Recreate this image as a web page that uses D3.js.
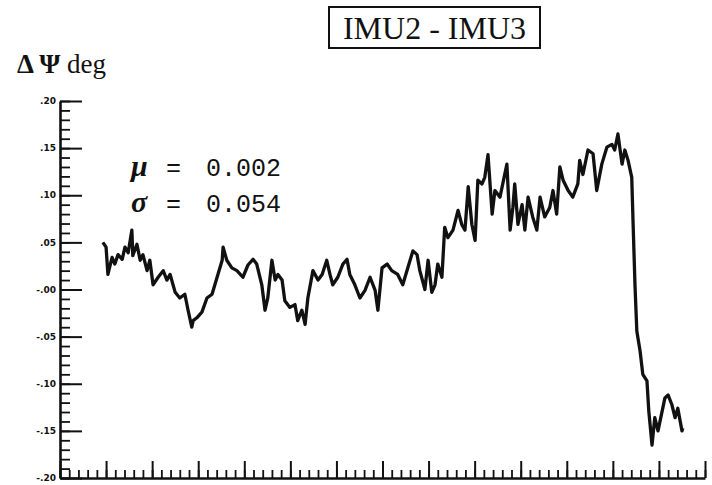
<!DOCTYPE html>
<html>
<head>
<meta charset="utf-8">
<script src="https://cdn.jsdelivr.net/npm/d3@7"></script>
<style>
  body { margin: 0; background: #fff; }
  svg { display: block; }
</style>
</head>
<body>
<svg id="chart" width="712" height="485"></svg>
<script>
// heading difference trace (x in arbitrary time units, y in deg)
const timeValues = [
  9.3, 10.0, 10.4, 11.3, 11.9, 12.6, 13.5, 14.1, 14.8, 15.6, 15.8, 16.7, 17.4, 18.0, 18.9, 19.5,
  20.2, 21.3, 22.4, 23.2, 23.9, 25.0, 26.0, 27.1, 27.8, 28.6, 28.9, 29.7, 30.8, 31.9, 33.0, 34.1,
  35.2, 35.4, 36.2, 37.3, 38.4, 39.7, 40.8, 41.9, 42.7, 43.8, 44.5, 45.1, 46.0, 46.7, 47.3, 48.2,
  48.8, 49.9, 51.0, 51.6, 52.5, 53.2, 53.8, 54.9, 56.0, 56.9, 57.9, 58.6, 59.2, 60.3, 61.4, 62.3,
  62.9, 64.0, 65.1, 66.2, 67.3, 68.4, 69.0, 69.9, 71.0, 72.0, 73.3, 74.4, 75.5, 76.6, 77.5, 78.1,
  79.2, 79.9, 80.7, 81.4, 82.0, 82.9, 83.5, 84.2, 85.3, 86.4, 87.2, 87.9, 88.6, 89.4, 90.1, 90.7,
  91.6, 92.2, 92.9, 93.8, 94.4, 95.5, 96.1, 97.0, 97.7, 98.3, 98.7, 99.4, 100.3, 100.9, 101.6, 102.6,
  103.5, 104.2, 105.2, 106.3, 107.0, 107.8, 108.5, 109.2, 110.3, 111.3, 112.4, 112.8, 113.5, 114.6, 115.7, 116.5,
  117.6, 118.7, 119.8, 120.4, 121.1, 122.0, 122.6, 123.3, 124.1, 124.4, 124.8, 125.2, 125.9, 126.5, 127.4, 127.8,
  128.5, 129.1, 129.8, 130.7, 131.3, 132.0, 132.8, 133.5, 134.1, 135.0, 135.2
];
const deltaPsi = [
  0.050, 0.045, 0.016, 0.034, 0.027, 0.037, 0.032, 0.045, 0.039, 0.063, 0.036, 0.048, 0.031, 0.037, 0.020, 0.031,
  0.005, 0.013, 0.020, 0.010, 0.016, -0.003, -0.009, -0.005, -0.022, -0.040, -0.033, -0.030, -0.024, -0.009, -0.005, 0.013,
  0.031, 0.045, 0.031, 0.023, 0.020, 0.013, 0.026, 0.032, 0.027, 0.005, -0.022, -0.009, 0.031, 0.010, 0.016, 0.010,
  -0.012, -0.019, -0.016, -0.033, -0.022, -0.037, -0.009, 0.020, 0.010, 0.016, 0.031, 0.016, 0.005, 0.013, 0.027, 0.032,
  0.016, 0.005, -0.009, -0.001, 0.013, -0.001, -0.022, 0.023, 0.027, 0.020, 0.016, 0.005, 0.023, 0.041, 0.037, 0.020,
  0.000, 0.031, -0.003, 0.005, 0.027, 0.013, 0.066, 0.055, 0.063, 0.084, 0.069, 0.063, 0.109, 0.069, 0.052, 0.116,
  0.112, 0.119, 0.143, 0.080, 0.105, 0.098, 0.112, 0.133, 0.063, 0.087, 0.112, 0.069, 0.090, 0.063, 0.098, 0.077,
  0.063, 0.098, 0.077, 0.087, 0.105, 0.080, 0.130, 0.116, 0.105, 0.098, 0.112, 0.137, 0.122, 0.148, 0.144, 0.105,
  0.133, 0.151, 0.154, 0.148, 0.165, 0.133, 0.148, 0.137, 0.119, 0.069, 0.005, -0.044, -0.065, -0.090, -0.097, -0.129,
  -0.165, -0.136, -0.150, -0.129, -0.115, -0.112, -0.122, -0.136, -0.126, -0.150, -0.147
];

const yTicks = [0.20, 0.15, 0.10, 0.05, 0.00, -0.05, -0.10, -0.15, -0.20];
const yTickLabels = ['.20', '.15', '.10', '.05', '-.00', '-.05', '-.10', '-.15', '-.20'];
const statSymbols = ['\u03bc', '\u03c3'];
const statValues = ['0.002', '0.054'];
const title = 'IMU2 - IMU3';

const svg = d3.select('#chart');
const margin = { top: 101, right: 7, bottom: 7, left: 60 };
const width = 712 - margin.left - margin.right;
const height = 485 - margin.top - margin.bottom;

const x = d3.scaleLinear().domain([0, 140]).range([margin.left, margin.left + width]);
const y = d3.scaleLinear().domain([-0.20, 0.20]).range([margin.top + height, margin.top]);

// minor ticks
const xMinor = d3.range(0, 140.001, 2);
const yMinor = d3.range(-0.20, 0.2001, 0.01);

svg.append('g')
  .attr('transform', `translate(0, ${y(-0.20)})`)
  .call(d3.axisTop(x).tickValues(xMinor).tickSize(8).tickSizeOuter(0).tickFormat(''))
  .call(g => g.select('.domain').remove())
  .selectAll('line').attr('stroke', '#111').attr('stroke-width', 1.8);

svg.append('g')
  .attr('transform', `translate(0, ${y(-0.20)})`)
  .call(d3.axisTop(x).tickValues(d3.range(0, 140.001, 10)).tickSize(17).tickSizeOuter(0).tickFormat(''))
  .call(g => g.select('.domain').attr('stroke', '#111').attr('stroke-width', 2.6))
  .selectAll('line').attr('stroke', '#111').attr('stroke-width', 2);

svg.append('g')
  .attr('transform', `translate(${x(0)}, 0)`)
  .call(d3.axisRight(y).tickValues(yMinor).tickSize(10).tickSizeOuter(0).tickFormat(''))
  .call(g => g.select('.domain').remove())
  .selectAll('line').attr('stroke', '#111').attr('stroke-width', 1.8);

svg.append('g')
  .attr('transform', `translate(${x(0)}, 0)`)
  .call(d3.axisRight(y).tickValues(yTicks).tickSize(22).tickSizeOuter(0).tickFormat(''))
  .call(g => g.select('.domain').attr('stroke', '#111').attr('stroke-width', 2.6))
  .selectAll('line').attr('stroke', '#111').attr('stroke-width', 2);

svg.append('g')
  .selectAll('text')
  .data(yTicks)
  .join('text')
  .attr('x', x(0) - 4)
  .attr('y', d => y(d))
  .attr('dy', '0.35em')
  .attr('text-anchor', 'end')
  .style('font-family', 'DejaVu Sans, sans-serif')
  .style('font-weight', 'bold')
  .style('font-size', '9px')
  .attr('fill', '#111')
  .text((d, i) => yTickLabels[i]);

// the trace
const points = timeValues.map((t, i) => [t, deltaPsi[i]]);
svg.append('path')
  .datum(points)
  .attr('fill', 'none')
  .attr('stroke', '#111')
  .attr('stroke-width', 3.3)
  .attr('stroke-linejoin', 'round')
  .attr('d', d3.line().x(d => x(d[0])).y(d => y(d[1])));

// y label
const ylab = svg.append('text')
  .attr('x', 17)
  .attr('y', 73)
  .style('font-family', 'Liberation Serif, serif')
  .style('font-size', '27px')
  .attr('fill', '#111');
ylab.append('tspan').style('font-weight', 'bold').text('\u0394 ');
ylab.append('tspan').style('font-weight', 'bold').text('\u03a8');
ylab.append('tspan').text(' deg');

// title box
svg.append('rect')
  .attr('x', 329).attr('y', 7).attr('width', 211).attr('height', 41)
  .attr('fill', 'none').attr('stroke', '#111').attr('stroke-width', 2);
svg.append('text')
  .attr('x', 434.5).attr('y', 39)
  .attr('text-anchor', 'middle')
  .style('font-family', 'Liberation Serif, serif')
  .style('font-size', '32px')
  .attr('fill', '#111')
  .text(title);

// statistics
const stats = svg.append('g');
statSymbols.forEach((s, i) => {
  const by = 176 + i * 36;
  stats.append('text')
    .attr('x', 131).attr('y', by)
    .style('font-family', 'Liberation Serif, serif')
    .style('font-weight', 'bold').style('font-style', 'italic')
    .style('font-size', '30px')
    .attr('fill', '#111')
    .text(s);
  stats.append('text')
    .attr('x', 166).attr('y', by)
    .style('font-family', 'Liberation Mono, monospace')
    .style('font-size', '25px')
    .attr('fill', '#111')
    .text('=');
  stats.append('text')
    .attr('x', 206).attr('y', by)
    .style('font-family', 'Liberation Mono, monospace')
    .style('font-size', '25px')
    .attr('fill', '#111')
    .text(statValues[i]);
});
</script>
</body>
</html>
